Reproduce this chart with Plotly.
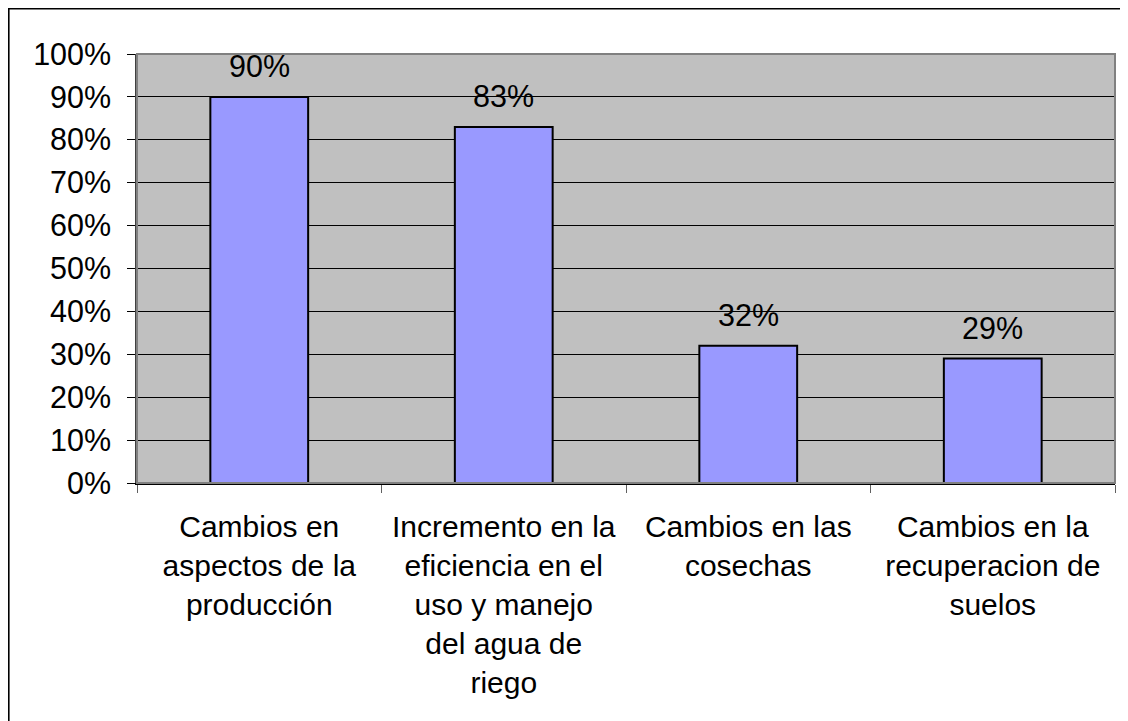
import plotly.graph_objects as go

categories = [
    "Cambios en<br>aspectos de la<br>producción",
    "Incremento en la<br>eficiencia en el<br>uso y manejo<br>del agua de<br>riego",
    "Cambios en las<br>cosechas",
    "Cambios en la<br>recuperacion de<br>suelos",
]
values = [0.90, 0.83, 0.32, 0.29]
value_labels = ["90%", "83%", "32%", "29%"]
y_ticks = [0, 0.1, 0.2, 0.3, 0.4, 0.5, 0.6, 0.7, 0.8, 0.9, 1.0]

# figure sized so that, with the page's 8px body margin, it fits the window exactly
W, H = 1120, 713
ml, mr, mt, mb = 129, 13, 46, 238
pw, ph = W - ml - mr, H - mt - mb

font = "Liberation Sans, Arial, sans-serif"
fs = 30.5
fsx = 30

fig = go.Figure()
fig.add_trace(go.Bar(
    x=categories, y=values, width=0.4,
    marker=dict(color="#9999FF", line=dict(color="black", width=2)),
    showlegend=False, hoverinfo="skip",
))

for c, v, t in zip(categories, values, value_labels):
    fig.add_annotation(x=c, y=v, text=t, showarrow=False, yanchor="bottom",
                       yshift=12, font=dict(family=font, size=fs, color="black"))

# plot area border (gray)
fig.add_shape(type="rect", xref="paper", yref="paper", x0=0, y0=0, x1=1, y1=1,
              line=dict(color="#808080", width=2), layer="above")

# outer chart border: only left and top edges are visible in the reference
def px_x(p):
    return (p - ml) / pw

def px_y(p):
    return (mt + ph - p) / ph

border = dict(color="black", width=1.6)
fig.add_shape(type="line", xref="paper", yref="paper",
              x0=px_x(0.8), x1=px_x(0.8), y0=px_y(H + 60), y1=px_y(0.0), line=border, layer="above")
fig.add_shape(type="line", xref="paper", yref="paper",
              x0=px_x(0.0), x1=px_x(W + 60), y0=px_y(0.8), y1=px_y(0.8), line=border, layer="above")

fig.update_layout(
    width=W, height=H,
    margin=dict(l=ml, r=mr, t=mt, b=mb, autoexpand=False),
    paper_bgcolor="white", plot_bgcolor="#C0C0C0",
    font=dict(family=font, size=fs, color="black"),
    bargap=0.6,
)
fig.update_xaxes(
    showline=True, linecolor="black", linewidth=1.5,
    ticks="outside", tickson="boundaries", ticklen=8, tickcolor="#606060",
    tickfont=dict(family=font, size=fsx), showgrid=False, ticklabelstandoff=16,
)
fig.update_yaxes(
    range=[0, 1], tickvals=y_ticks, tickformat=".0%",
    showline=True, linecolor="#404040", linewidth=1.5,
    ticks="outside", ticklen=8, tickcolor="black",
    gridcolor="black", gridwidth=1, zeroline=False,
    tickfont=dict(family=font, size=fs), ticklabelstandoff=10,
)

fig.write_html("out.html")
